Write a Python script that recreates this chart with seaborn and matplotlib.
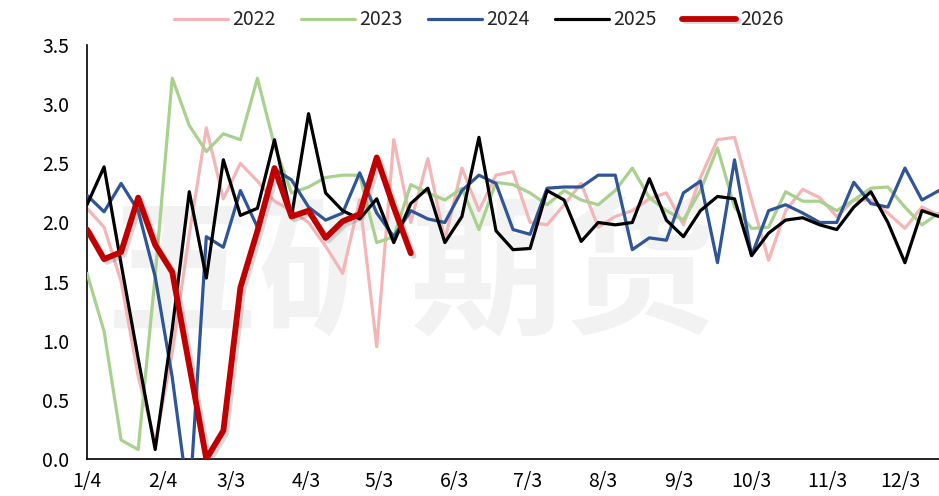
#%%
import pandas as pd
import numpy as np
import matplotlib.pyplot as plt
import matplotlib.patheffects as pe
import seaborn as sns

# 주간 데이터 (1/4부터 7일 간격)
years = ['2022', '2023', '2024', '2025', '2026']
colors = ['#F4B5B7', '#A9D18E', '#2F5597', '#000000', '#C00000']
widths = [2.3, 2.3, 2.3, 2.3, 4.2]

v2022 = [2.12, 1.96, 1.5, 0.7, 0.14, 0.9, 1.9, 2.8, 2.2, 2.5, 2.35, 2.18, 2.1, 2.0, 1.8, 1.57, 2.19,
         0.95, 2.7, 2.0, 2.54, 1.85, 2.46, 2.1, 2.4, 2.43, 2.0, 1.98, 2.15, 2.33, 1.96, 2.05, 2.1, 2.2,
         2.25, 1.98, 2.38, 2.7, 2.72, 2.19, 1.68, 2.1, 2.28, 2.21, 2.05, 2.19, 2.19, 2.08, 1.95, 2.13, 2.06]
v2023 = [1.57, 1.08, 0.16, 0.08, 1.55, 3.22, 2.82, 2.6, 2.75, 2.7, 3.22, 2.65, 2.25, 2.3, 2.38, 2.4, 2.4,
         1.83, 1.88, 2.32, 2.25, 2.19, 2.29, 1.94, 2.34, 2.32, 2.25, 2.15, 2.27, 2.19, 2.15, 2.27, 2.46, 2.21,
         2.1, 2.02, 2.27, 2.63, 2.13, 1.95, 1.96, 2.26, 2.18, 2.18, 2.1, 2.19, 2.29, 2.3, 2.13, 1.98, 2.08]
v2024 = [2.23, 2.09, 2.33, 2.1, 1.54, 0.69, -0.4, 1.88, 1.79, 2.27, 1.96, 2.45, 2.36, 2.13, 2.02, 2.08, 2.42,
         2.08, 1.88, 2.1, 2.03, 2.0, 2.27, 2.4, 2.33, 1.94, 1.9, 2.29, 2.3, 2.3, 2.4, 2.4, 1.77, 1.87,
         1.85, 2.25, 2.35, 1.66, 2.53, 1.72, 2.1, 2.15, 2.08, 2.0, 2.0, 2.34, 2.16, 2.13, 2.46, 2.19, 2.27]
v2025 = [2.15, 2.47, 1.65, 0.85, 0.08, 1.1, 2.26, 1.53, 2.53, 2.06, 2.12, 2.7, 2.05, 2.92, 2.25, 2.1, 2.03,
         2.2, 1.83, 2.16, 2.29, 1.83, 2.05, 2.72, 1.93, 1.77, 1.78, 2.27, 2.19, 1.84, 2.0, 1.98, 2.0, 2.37,
         2.02, 1.88, 2.1, 2.22, 2.2, 1.72, 1.91, 2.02, 2.04, 1.98, 1.94, 2.13, 2.26, 2.0, 1.66, 2.1, 2.05]
v2026 = [1.94, 1.69, 1.75, 2.21, 1.81, 1.58, 0.79, 0.0, 0.24, 1.45, 1.93, 2.46, 2.05, 2.1, 1.87, 2.01,
         2.07, 2.55, 2.13, 1.74]

tick_labels = ['1/4', '2/4', '3/3', '4/3', '5/3', '6/3', '7/3', '8/3', '9/3', '10/3', '11/3', '12/3']
y_ticks = [0.0, 0.5, 1.0, 1.5, 2.0, 2.5, 3.0, 3.5]

# 날짜 축
weeks = pd.date_range('2025-01-04', periods=len(v2022), freq='7D')
tick_pos = pd.date_range('2025-01-01', periods=12, freq='MS') + pd.Timedelta(days=3)

series = [v2022, v2023, v2024, v2025, v2026]
frames = []
for y, v in zip(years, series):
    frames.append(pd.DataFrame({'date': weeks[:len(v)], 'value': v, 'year': y}))
df = pd.concat(frames, ignore_index=True)

# %%
sns.set_style('white')
plt.rcParams['font.family'] = ['Noto Sans CJK SC', 'DejaVu Sans']

fig = plt.figure(figsize=(9.39, 4.96), dpi=100)
ax = fig.add_axes([0.0927, 0.0746, 0.9073, 0.8345])

# 워터마크
ax.text(0.38, 0.44, '五矿期货', transform=ax.transAxes, ha='center', va='center',
        fontsize=110, color='#F2F2F2', fontweight='bold', zorder=0)

for i, y in enumerate(years):
    sub = df[df['year'] == y]
    sns.lineplot(data=sub, x='date', y='value', color=colors[i], linewidth=widths[i],
                 label=y, ax=ax, zorder=2 + i)

red = ax.get_lines()[-1]
red.set_path_effects([pe.SimpleLineShadow(offset=(2, -2), alpha=0.25, shadow_color='#666666'),
                      pe.Normal()])

ax.set_xlim(weeks[0], weeks[-1])
ax.set_ylim(0, 3.5)
ax.set_xticks(tick_pos)
ax.set_xticklabels(tick_labels)
ax.set_yticks(y_ticks)
ax.set_yticklabels([f'{t:.1f}' for t in y_ticks])
ax.set_xlabel('')
ax.set_ylabel('')

for s in ['top', 'right']:
    ax.spines[s].set_visible(False)
for s in ['left', 'bottom']:
    ax.spines[s].set_color('black')
    ax.spines[s].set_linewidth(1.2)
ax.tick_params(axis='both', direction='out', length=5, width=1.2, colors='black', labelsize=14)
ax.tick_params(axis='x', pad=4)
ax.tick_params(axis='y', pad=8)

leg = ax.legend(loc='center', bbox_to_anchor=(0.51, 0.96), bbox_transform=fig.transFigure,
                ncol=5, frameon=False, fontsize=14, handlelength=2.8, handletextpad=0.2,
                columnspacing=1.3)

plt.savefig('out.png', dpi=100)
plt.close()
